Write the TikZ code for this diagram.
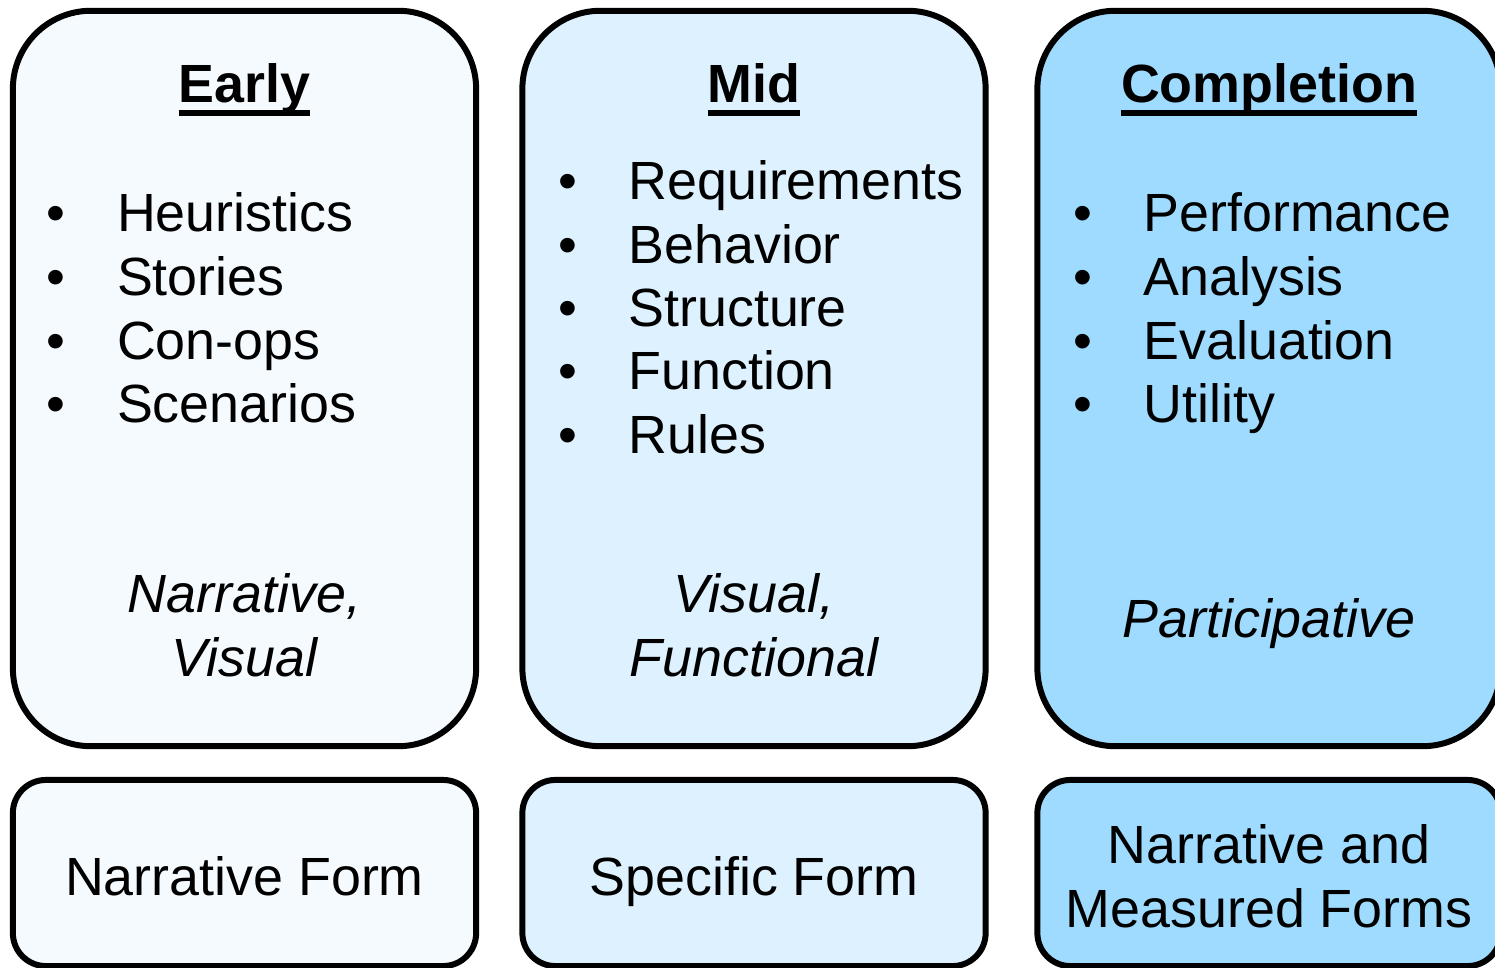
\documentclass[tikz,border=0pt]{standalone}
\usepackage{fontspec}
\setmainfont{Liberation Sans}
\usetikzlibrary{positioning}
\definecolor{earlyfill}{HTML}{F4FAFE}
\definecolor{midfill}{HTML}{DEF1FE}
\definecolor{donefill}{HTML}{9EDBFE}
\newcommand{\ulhead}[1]{\setbox0\hbox{#1}\rlap{\rule[-3.8pt]{\wd0}{1.8pt}}#1}
\newcommand{\bul}[1]{\makebox[20pt][l]{\textbullet}#1}
\tikzset{
  txt/.style={
      font=\fontsize{15.3}{18}\selectfont,
      inner sep=0pt,
      anchor=base
    },
  head/.style={
      txt,
      font=\fontsize{15.3}{18}\selectfont\bfseries
    },
  item/.style={
      txt,
      anchor=base west
    },
  note/.style={
      txt,
      font=\fontsize{15.3}{18}\selectfont\itshape
    },
  phase/.style={
      rectangle,
      draw,
      line width=1.7pt,
      rounded corners=0.78cm,
      minimum width=4.63cm,
      minimum height=7.35cm
    },
  form/.style={
      rectangle,
      draw,
      line width=1.7pt,
      rounded corners=0.33cm,
      minimum width=4.63cm,
      minimum height=1.86cm
    }
}

\begin{document}
\begin{tikzpicture}[x=0.01cm, y=-0.01cm]
  \clip (0,0) rectangle (1495,968);
  % phase boxes
  \node[phase, fill=earlyfill] (early) at (244.5,378.5) {};
  \node[phase, fill=midfill] (mid) at (754,378.5) {};
  \node[phase, fill=donefill] (done) at (1269,378.5) {};
  \node[form, fill=earlyfill] (earlyform) at (244.5,873) {};
  \node[form, fill=midfill] (midform) at (754,873) {};
  \node[form, fill=donefill] (doneform) at (1269,873) {};
  % titles
  \node[head] (earlyhead) at (244.5,103) {\ulhead{Early}};
  \node[head] (midhead) at (754,103) {\ulhead{Mid}};
  \node[head] (donehead) at (1269,103) {\ulhead{Completion}};
  % bullet lists
  \foreach \t [count=\i from 0] in {Heuristics, Stories, Con-ops, Scenarios}
    \node[item] (e\i) at (46,232+63.6*\i) {\bul{\t}};
  \foreach \t [count=\i from 0] in {Requirements, Behavior, Structure, Function, Rules}
    \node[item] (m\i) at (557.5,200+63.3*\i) {\bul{\t}};
  \foreach \t [count=\i from 0] in {Performance, Analysis, Evaluation, Utility}
    \node[item] (c\i) at (1072.5,232+63.6*\i) {\bul{\t}};
  % modes
  \node[note] (earlynote1) at (244.5,613) {Narrative,};
  \node[note] (earlynote2) at (244.5,677) {Visual};
  \node[note] (midnote1) at (754,613) {Visual,};
  \node[note] (midnote2) at (754,677) {Functional};
  \node[note] (donenote) at (1269,638) {Participative};
  % forms
  \node[txt] (earlyformtxt) at (244.5,895) {Narrative Form};
  \node[txt] (midformtxt) at (754,895) {Specific Form};
  \node[txt] (doneformtxt1) at (1269,863) {Narrative and};
  \node[txt] (doneformtxt2) at (1269,927) {Measured Forms};
\end{tikzpicture}
\end{document}
